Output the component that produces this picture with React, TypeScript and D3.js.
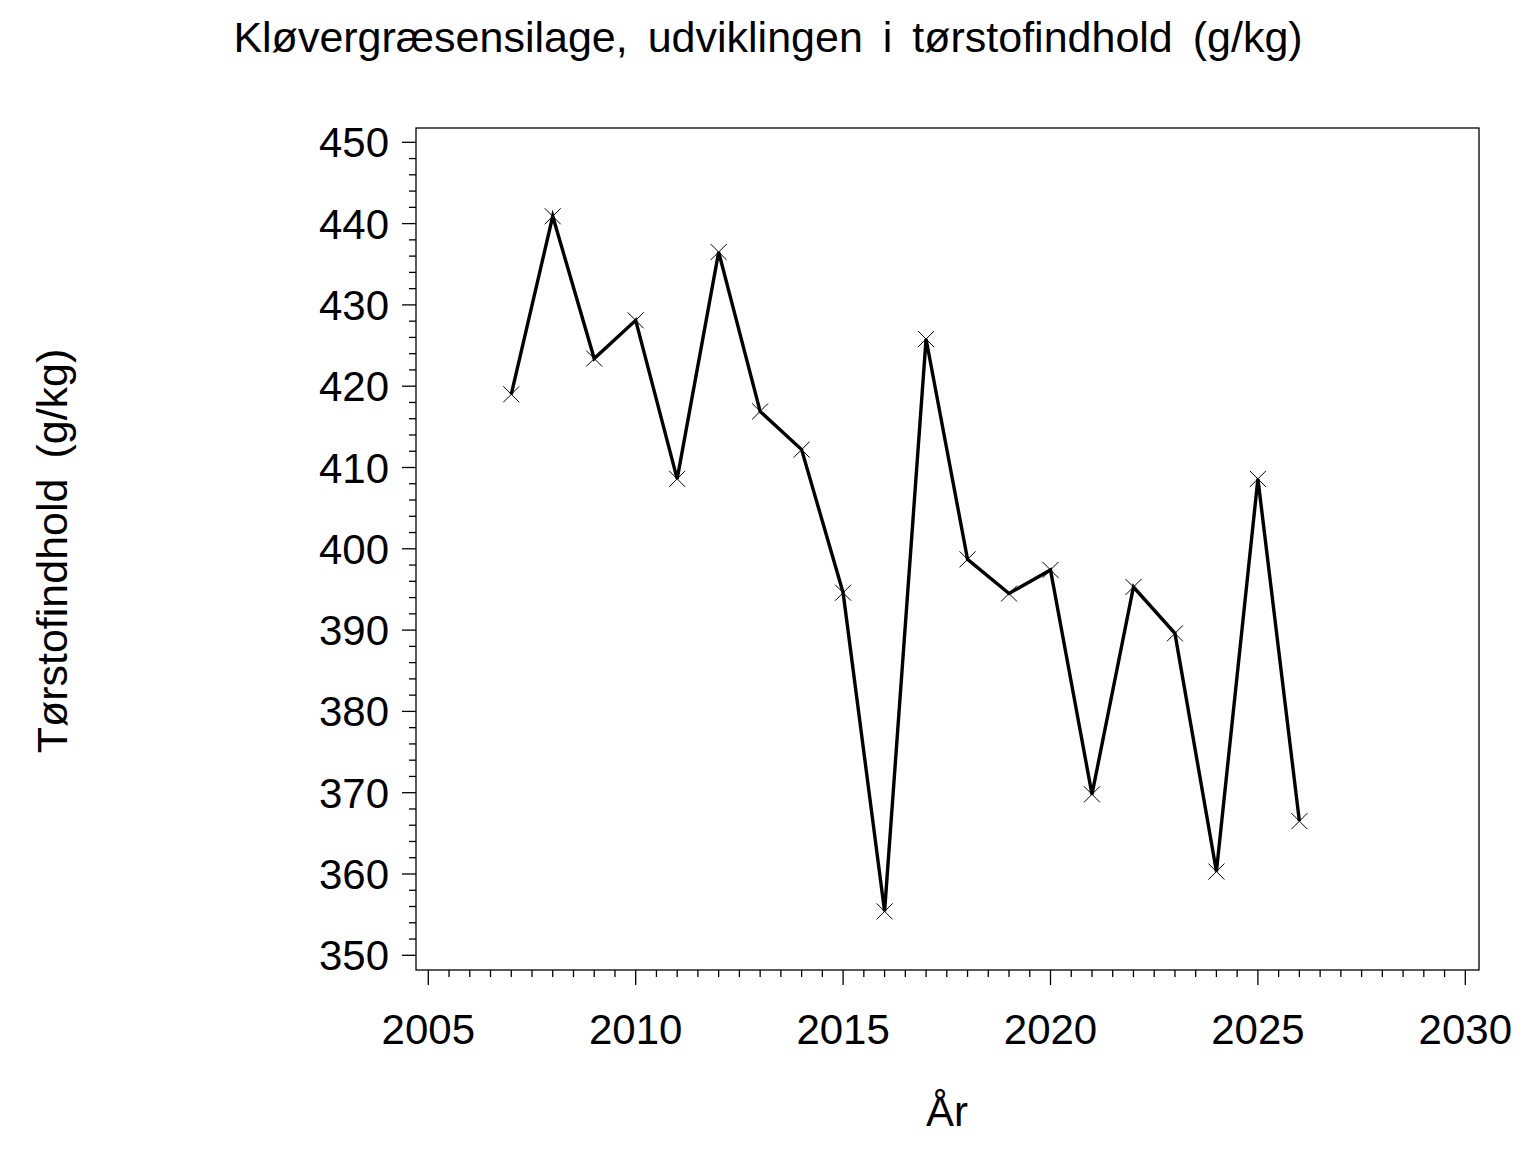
import * as d3 from 'd3';

const years = [2007, 2008, 2009, 2010, 2011, 2012, 2013, 2014, 2015, 2016, 2017, 2018, 2019, 2020, 2021, 2022, 2023, 2024, 2025, 2026];
const dryMatter = [419.0, 440.9, 423.4, 428.1, 408.6, 436.5, 416.9, 412.2, 394.6, 355.4, 425.8, 398.7, 394.5, 397.4, 369.8, 395.3, 389.6, 360.3, 408.6, 366.5];
const xTicks = [2005, 2010, 2015, 2020, 2025, 2030];
const yTicks = [350, 360, 370, 380, 390, 400, 410, 420, 430, 440, 450];

const title = 'Kløvergræsensilage, udviklingen i tørstofindhold (g/kg)';
const xTitle = 'År';
const yTitle = 'Tørstofindhold (g/kg)';

const W = 1536;
const H = 1152;
const frame = { left: 416, top: 128, right: 1479, bottom: 970 };
const font = '"Liberation Sans", Arial, Helvetica, sans-serif';

export default function App() {
  const x = d3.scaleLinear().domain([2005, 2030]).range([428.3, 1465.3]);
  const y = d3.scaleLinear().domain([350, 450]).range([955.3, 142.3]);

  const xMinor = d3.range(2005, 2030.01, 0.5).filter((d) => d % 5 !== 0);
  const yMinor = d3.range(350, 450.01, 2).filter((d) => d % 10 !== 0);

  const data = years.map((yr, i) => ({ yr, v: dryMatter[i] }));
  const line = d3
    .line<{ yr: number; v: number }>()
    .x((d) => x(d.yr))
    .y((d) => y(d.v));

  const m = 8;

  return (
    <div style={{ position: 'absolute', left: 0, top: 0, width: W, height: H, background: '#fff' }}>
      <svg width={W} height={H} style={{ display: 'block', fontFamily: font }}>
        <rect width={W} height={H} fill="#fff" />
        <text x={768} y={52} textAnchor="middle" fontSize={43} wordSpacing={8} fill="#000">
          {title}
        </text>

        <rect
          x={frame.left}
          y={frame.top}
          width={frame.right - frame.left}
          height={frame.bottom - frame.top}
          fill="none"
          stroke="#000"
          strokeWidth={1.3}
        />

        {/* y axis */}
        {yTicks.map((t) => (
          <g key={t}>
            <line x1={frame.left - 14} x2={frame.left} y1={y(t)} y2={y(t)} stroke="#000" strokeWidth={1.3} />
            <text x={389} y={y(t) + 15} textAnchor="end" fontSize={42} fill="#000">
              {t}
            </text>
          </g>
        ))}
        {yMinor.map((t) => (
          <line key={t} x1={frame.left - 7} x2={frame.left} y1={y(t)} y2={y(t)} stroke="#000" strokeWidth={1.3} />
        ))}

        {/* x axis */}
        {xTicks.map((t) => (
          <g key={t}>
            <line x1={x(t)} x2={x(t)} y1={frame.bottom} y2={frame.bottom + 15} stroke="#000" strokeWidth={1.3} />
            <text x={x(t)} y={1044} textAnchor="middle" fontSize={42} fill="#000">
              {t}
            </text>
          </g>
        ))}
        {xMinor.map((t) => (
          <line key={t} x1={x(t)} x2={x(t)} y1={frame.bottom} y2={frame.bottom + 7} stroke="#000" strokeWidth={1.3} />
        ))}

        <text x={947} y={1126} textAnchor="middle" fontSize={42} fill="#000">
          {xTitle}
        </text>
        <text
          transform={`translate(67,551) rotate(-90)`}
          textAnchor="middle"
          fontSize={43}
          wordSpacing={8}
          fill="#000"
        >
          {yTitle}
        </text>

        <path d={line(data) ?? ''} fill="none" stroke="#000" strokeWidth={3.4} strokeLinejoin="miter" />
        {data.map((d) => (
          <path
            key={d.yr}
            d={`M${x(d.yr) - m},${y(d.v) - m}L${x(d.yr) + m},${y(d.v) + m}M${x(d.yr) - m},${y(d.v) + m}L${x(d.yr) + m},${y(d.v) - m}`}
            stroke="#000"
            strokeWidth={1}
            fill="none"
          />
        ))}
      </svg>
    </div>
  );
}
